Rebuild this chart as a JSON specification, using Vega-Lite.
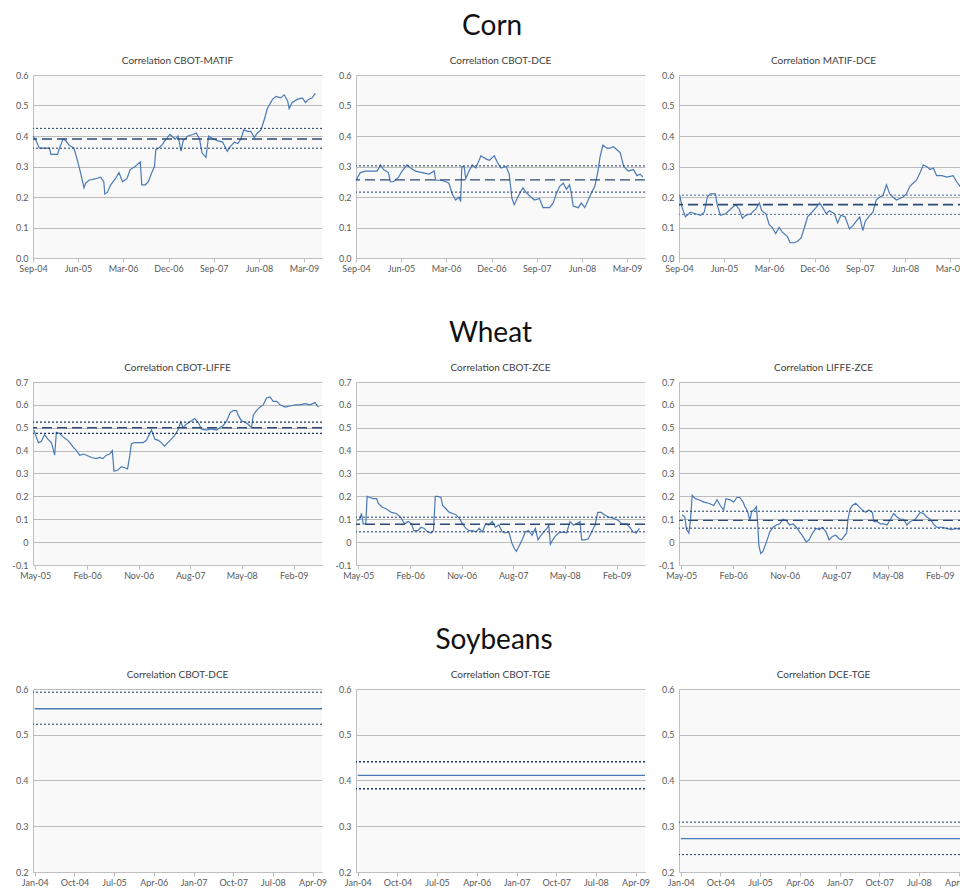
{
"$schema": "https://vega.github.io/schema/vega-lite/v6.json",
"padding": {"left": 12, "top": 13, "right": 0, "bottom": 0},
"background": "white",
"spacing": 47,
"config": {
 "font": "Lato",
 "view": {"stroke": null, "fill": "#f9f9f9"},
 "axis": {"labelFont": "Lato", "labelFontSize": 9, "labelColor": "#595959", "domainColor": "#bfbfbf", "tickColor": "#bfbfbf", "gridColor": "#bcbcbc", "title": null, "labelOverlap": false},
 "axisX": {"grid": false, "tickSize": 4, "labelPadding": 2, "labelFlush": false},
 "axisY": {"grid": true, "ticks": false, "labelPadding": 5},
 "title": {"font": "Lato", "fontSize": 10, "fontWeight": "normal", "color": "#404040", "offset": 5},
 "line": {"color": "#4a7ab5", "strokeWidth": 1.2, "clip": true}
},
"vconcat": [
{
 "title": {"text": "Corn", "fontSize": 28, "color": "#111111", "offset": 15, "anchor": "middle"},
 "bounds": "flush",
 "spacing": 34,
 "hconcat": [
  {
   "width": 289, "height": 183,
   "title": "Correlation CBOT-MATIF",
   "encoding": {"y": {"field": "value", "type": "quantitative", "scale": {"domain": [0, 0.6], "nice": false, "zero": false}, "axis": {"values": [0,0.1,0.2,0.3,0.4,0.5,0.6], "format": ".1f"}}},
   "layer": [
    {"data": {"values": [
      {"date":"2004-09-01","value":0.40},{"date":"2004-09-15","value":0.39},{"date":"2004-10-10","value":0.36},{"date":"2004-12-10","value":0.36},{"date":"2004-12-18","value":0.34},{"date":"2005-01-28","value":0.34},{"date":"2005-02-08","value":0.36},{"date":"2005-03-02","value":0.39},{"date":"2005-03-18","value":0.385},{"date":"2005-04-07","value":0.37},{"date":"2005-05-07","value":0.36},{"date":"2005-05-28","value":0.32},{"date":"2005-06-16","value":0.28},{"date":"2005-07-07","value":0.23},{"date":"2005-07-16","value":0.245},{"date":"2005-08-06","value":0.255},{"date":"2005-09-16","value":0.26},{"date":"2005-10-16","value":0.265},{"date":"2005-11-04","value":0.25},{"date":"2005-11-10","value":0.21},{"date":"2005-11-25","value":0.215},{"date":"2005-12-16","value":0.24},{"date":"2006-01-13","value":0.26},{"date":"2006-02-04","value":0.28},{"date":"2006-02-25","value":0.25},{"date":"2006-03-24","value":0.26},{"date":"2006-04-13","value":0.29},{"date":"2006-05-13","value":0.30},{"date":"2006-06-13","value":0.315},{"date":"2006-06-22","value":0.24},{"date":"2006-07-13","value":0.24},{"date":"2006-08-01","value":0.25},{"date":"2006-08-22","value":0.28},{"date":"2006-09-07","value":0.30},{"date":"2006-09-15","value":0.355},{"date":"2006-10-01","value":0.36},{"date":"2006-10-22","value":0.37},{"date":"2006-11-10","value":0.385},{"date":"2006-12-10","value":0.405},{"date":"2007-01-10","value":0.39},{"date":"2007-01-28","value":0.40},{"date":"2007-02-15","value":0.35},{"date":"2007-02-28","value":0.385},{"date":"2007-03-28","value":0.40},{"date":"2007-04-28","value":0.405},{"date":"2007-05-18","value":0.41},{"date":"2007-06-07","value":0.39},{"date":"2007-06-22","value":0.345},{"date":"2007-07-16","value":0.33},{"date":"2007-08-01","value":0.40},{"date":"2007-08-28","value":0.39},{"date":"2007-09-25","value":0.385},{"date":"2007-10-25","value":0.38},{"date":"2007-11-22","value":0.35},{"date":"2007-12-10","value":0.365},{"date":"2008-01-04","value":0.38},{"date":"2008-01-25","value":0.375},{"date":"2008-02-13","value":0.39},{"date":"2008-03-01","value":0.42},{"date":"2008-03-25","value":0.415},{"date":"2008-04-13","value":0.415},{"date":"2008-05-04","value":0.395},{"date":"2008-05-22","value":0.41},{"date":"2008-06-13","value":0.42},{"date":"2008-07-04","value":0.455},{"date":"2008-07-22","value":0.49},{"date":"2008-08-22","value":0.52},{"date":"2008-09-13","value":0.53},{"date":"2008-10-10","value":0.525},{"date":"2008-11-01","value":0.535},{"date":"2008-11-22","value":0.515},{"date":"2008-12-01","value":0.49},{"date":"2008-12-19","value":0.51},{"date":"2009-01-19","value":0.52},{"date":"2009-02-19","value":0.525},{"date":"2009-03-10","value":0.51},{"date":"2009-03-28","value":0.52},{"date":"2009-04-19","value":0.525},{"date":"2009-05-08","value":0.54}
     ]},
     "mark": {"type": "line"},
     "encoding": {
      "x": {"field": "date", "type": "temporal", "scale": {"type": "utc", "domain": [{"year":2004,"month":9,"date":1,"utc":true},{"year":2009,"month":6,"date":18,"utc":true}]}, "axis": {"format": "%b-%y", "values": [{"year":2004,"month":9,"date":1,"utc":true},{"year":2005,"month":6,"date":1,"utc":true},{"year":2006,"month":3,"date":1,"utc":true},{"year":2006,"month":12,"date":1,"utc":true},{"year":2007,"month":9,"date":1,"utc":true},{"year":2008,"month":6,"date":1,"utc":true},{"year":2009,"month":3,"date":1,"utc":true}]}}
     }},
    {"data": {"values": [{"kind":"mean","value":0.39}]}, "mark": {"type": "rule", "strokeDash": [10,5], "strokeWidth": 1.4, "color": "#2b4a75"}, "encoding": {}},
    {"data": {"values": [{"kind":"upper","value":0.425},{"kind":"lower","value":0.36}]}, "mark": {"type": "rule", "strokeDash": [2,2], "strokeWidth": 1, "color": "#1f3864"}, "encoding": {}}
   ]
  },
  {
   "width": 289, "height": 183,
   "title": "Correlation CBOT-DCE",
   "encoding": {"y": {"field": "value", "type": "quantitative", "scale": {"domain": [0, 0.6], "nice": false, "zero": false}, "axis": {"values": [0,0.1,0.2,0.3,0.4,0.5,0.6], "format": ".1f"}}},
   "layer": [
    {"data": {"values": [
      {"date":"2004-09-01","value":0.255},{"date":"2004-09-27","value":0.28},{"date":"2004-10-27","value":0.285},{"date":"2004-12-07","value":0.285},{"date":"2005-01-07","value":0.285},{"date":"2005-01-28","value":0.305},{"date":"2005-02-15","value":0.29},{"date":"2005-03-16","value":0.28},{"date":"2005-03-28","value":0.25},{"date":"2005-04-16","value":0.25},{"date":"2005-05-17","value":0.265},{"date":"2005-06-07","value":0.285},{"date":"2005-07-07","value":0.305},{"date":"2005-07-28","value":0.295},{"date":"2005-08-28","value":0.285},{"date":"2005-10-07","value":0.28},{"date":"2005-11-18","value":0.275},{"date":"2005-12-19","value":0.285},{"date":"2005-12-28","value":0.255},{"date":"2006-01-28","value":0.255},{"date":"2006-02-27","value":0.25},{"date":"2006-03-18","value":0.245},{"date":"2006-04-07","value":0.21},{"date":"2006-04-28","value":0.19},{"date":"2006-05-18","value":0.20},{"date":"2006-05-28","value":0.185},{"date":"2006-06-04","value":0.30},{"date":"2006-06-18","value":0.30},{"date":"2006-06-28","value":0.26},{"date":"2006-07-18","value":0.285},{"date":"2006-08-07","value":0.305},{"date":"2006-08-28","value":0.295},{"date":"2006-09-28","value":0.335},{"date":"2006-10-28","value":0.325},{"date":"2006-11-18","value":0.32},{"date":"2006-12-18","value":0.335},{"date":"2007-01-09","value":0.31},{"date":"2007-01-28","value":0.295},{"date":"2007-02-28","value":0.30},{"date":"2007-03-18","value":0.275},{"date":"2007-04-04","value":0.195},{"date":"2007-04-18","value":0.175},{"date":"2007-05-09","value":0.20},{"date":"2007-06-09","value":0.23},{"date":"2007-06-28","value":0.215},{"date":"2007-07-28","value":0.20},{"date":"2007-08-18","value":0.19},{"date":"2007-09-18","value":0.195},{"date":"2007-10-09","value":0.165},{"date":"2007-11-18","value":0.165},{"date":"2007-12-09","value":0.18},{"date":"2007-12-28","value":0.21},{"date":"2008-01-18","value":0.235},{"date":"2008-02-09","value":0.245},{"date":"2008-02-28","value":0.225},{"date":"2008-03-18","value":0.24},{"date":"2008-03-29","value":0.21},{"date":"2008-04-09","value":0.17},{"date":"2008-05-09","value":0.165},{"date":"2008-05-29","value":0.18},{"date":"2008-06-18","value":0.165},{"date":"2008-07-09","value":0.19},{"date":"2008-07-29","value":0.215},{"date":"2008-08-18","value":0.235},{"date":"2008-09-06","value":0.285},{"date":"2008-09-18","value":0.33},{"date":"2008-10-06","value":0.37},{"date":"2008-10-30","value":0.36},{"date":"2008-11-18","value":0.36},{"date":"2008-12-09","value":0.365},{"date":"2008-12-30","value":0.355},{"date":"2009-01-19","value":0.345},{"date":"2009-02-09","value":0.30},{"date":"2009-03-09","value":0.285},{"date":"2009-04-09","value":0.29},{"date":"2009-04-30","value":0.27},{"date":"2009-05-19","value":0.275},{"date":"2009-06-06","value":0.265}
     ]},
     "mark": {"type": "line"},
     "encoding": {
      "x": {"field": "date", "type": "temporal", "scale": {"type": "utc", "domain": [{"year":2004,"month":9,"date":1,"utc":true},{"year":2009,"month":6,"date":18,"utc":true}]}, "axis": {"format": "%b-%y", "values": [{"year":2004,"month":9,"date":1,"utc":true},{"year":2005,"month":6,"date":1,"utc":true},{"year":2006,"month":3,"date":1,"utc":true},{"year":2006,"month":12,"date":1,"utc":true},{"year":2007,"month":9,"date":1,"utc":true},{"year":2008,"month":6,"date":1,"utc":true},{"year":2009,"month":3,"date":1,"utc":true}]}}
     }},
    {"data": {"values": [{"kind":"mean","value":0.256}]}, "mark": {"type": "rule", "strokeDash": [10,5], "strokeWidth": 1.4, "color": "#2b4a75"}, "encoding": {}},
    {"data": {"values": [{"kind":"upper","value":0.302},{"kind":"lower","value":0.216}]}, "mark": {"type": "rule", "strokeDash": [2,2], "strokeWidth": 1, "color": "#1f3864"}, "encoding": {}}
   ]
  },
  {
   "width": 289, "height": 183,
   "title": "Correlation MATIF-DCE",
   "encoding": {"y": {"field": "value", "type": "quantitative", "scale": {"domain": [0, 0.6], "nice": false, "zero": false}, "axis": {"values": [0,0.1,0.2,0.3,0.4,0.5,0.6], "format": ".1f"}}},
   "layer": [
    {"data": {"values": [
      {"date":"2004-09-06","value":0.205},{"date":"2004-09-20","value":0.165},{"date":"2004-10-10","value":0.135},{"date":"2004-11-10","value":0.15},{"date":"2004-12-10","value":0.145},{"date":"2005-01-10","value":0.14},{"date":"2005-02-01","value":0.15},{"date":"2005-02-20","value":0.20},{"date":"2005-03-10","value":0.21},{"date":"2005-04-10","value":0.21},{"date":"2005-04-20","value":0.175},{"date":"2005-05-10","value":0.14},{"date":"2005-06-10","value":0.145},{"date":"2005-07-10","value":0.16},{"date":"2005-08-10","value":0.175},{"date":"2005-09-01","value":0.16},{"date":"2005-09-20","value":0.13},{"date":"2005-10-10","value":0.14},{"date":"2005-11-10","value":0.145},{"date":"2005-12-10","value":0.16},{"date":"2006-01-01","value":0.18},{"date":"2006-01-15","value":0.155},{"date":"2006-02-10","value":0.145},{"date":"2006-03-01","value":0.11},{"date":"2006-03-20","value":0.10},{"date":"2006-04-10","value":0.08},{"date":"2006-05-01","value":0.10},{"date":"2006-05-20","value":0.085},{"date":"2006-06-20","value":0.07},{"date":"2006-07-06","value":0.05},{"date":"2006-08-01","value":0.05},{"date":"2006-08-20","value":0.055},{"date":"2006-09-10","value":0.065},{"date":"2006-10-01","value":0.10},{"date":"2006-10-20","value":0.135},{"date":"2006-11-15","value":0.15},{"date":"2006-12-10","value":0.165},{"date":"2007-01-01","value":0.18},{"date":"2007-01-20","value":0.165},{"date":"2007-02-10","value":0.145},{"date":"2007-03-01","value":0.155},{"date":"2007-04-01","value":0.145},{"date":"2007-04-20","value":0.115},{"date":"2007-05-10","value":0.14},{"date":"2007-06-04","value":0.135},{"date":"2007-07-01","value":0.095},{"date":"2007-07-20","value":0.105},{"date":"2007-08-10","value":0.12},{"date":"2007-09-01","value":0.135},{"date":"2007-09-20","value":0.09},{"date":"2007-10-04","value":0.12},{"date":"2007-11-01","value":0.14},{"date":"2007-11-20","value":0.15},{"date":"2007-12-10","value":0.19},{"date":"2008-01-01","value":0.20},{"date":"2008-01-20","value":0.205},{"date":"2008-02-10","value":0.24},{"date":"2008-03-01","value":0.21},{"date":"2008-03-20","value":0.20},{"date":"2008-04-10","value":0.19},{"date":"2008-05-01","value":0.195},{"date":"2008-05-20","value":0.20},{"date":"2008-06-10","value":0.21},{"date":"2008-07-01","value":0.235},{"date":"2008-07-20","value":0.245},{"date":"2008-08-10","value":0.255},{"date":"2008-09-01","value":0.28},{"date":"2008-09-20","value":0.305},{"date":"2008-10-10","value":0.30},{"date":"2008-11-01","value":0.29},{"date":"2008-11-20","value":0.295},{"date":"2008-12-10","value":0.27},{"date":"2009-01-10","value":0.27},{"date":"2009-02-10","value":0.265},{"date":"2009-03-20","value":0.27},{"date":"2009-04-10","value":0.25},{"date":"2009-05-01","value":0.235},{"date":"2009-05-20","value":0.23}
     ]},
     "mark": {"type": "line"},
     "encoding": {
      "x": {"field": "date", "type": "temporal", "scale": {"type": "utc", "domain": [{"year":2004,"month":9,"date":1,"utc":true},{"year":2009,"month":6,"date":18,"utc":true}]}, "axis": {"format": "%b-%y", "values": [{"year":2004,"month":9,"date":1,"utc":true},{"year":2005,"month":6,"date":1,"utc":true},{"year":2006,"month":3,"date":1,"utc":true},{"year":2006,"month":12,"date":1,"utc":true},{"year":2007,"month":9,"date":1,"utc":true},{"year":2008,"month":6,"date":1,"utc":true},{"year":2009,"month":3,"date":1,"utc":true}]}}
     }},
    {"data": {"values": [{"kind":"mean","value":0.175}]}, "mark": {"type": "rule", "strokeDash": [10,5], "strokeWidth": 1.8, "color": "#2b4a75"}, "encoding": {}},
    {"data": {"values": [{"kind":"upper","value":0.206},{"kind":"lower","value":0.143}]}, "mark": {"type": "rule", "strokeDash": [2,2], "strokeWidth": 1, "color": "#4f6f9a"}, "encoding": {}}
   ]
  }
 ]
},
{
 "title": {"text": "Wheat", "fontSize": 28, "color": "#111111", "offset": 15, "anchor": "middle"},
 "bounds": "flush",
 "spacing": 34,
 "hconcat": [
  {
   "width": 289, "height": 183,
   "title": "Correlation CBOT-LIFFE",
   "encoding": {"y": {"field": "value", "type": "quantitative", "scale": {"domain": [-0.1, 0.7], "nice": false, "zero": false}, "axis": {"values": [-0.1,0,0.1,0.2,0.3,0.4,0.5,0.6,0.7], "labelExpr": "datum.value == 0 ? '0' : replace(format(datum.value, '.1f'), '\u2212', '-')"}}},
   "layer": [
    {"data": {"values": [
      {"date":"2005-04-24","value":0.49},{"date":"2005-05-06","value":0.46},{"date":"2005-05-18","value":0.435},{"date":"2005-06-02","value":0.44},{"date":"2005-06-19","value":0.47},{"date":"2005-07-07","value":0.45},{"date":"2005-07-25","value":0.435},{"date":"2005-08-03","value":0.41},{"date":"2005-08-12","value":0.38},{"date":"2005-08-21","value":0.48},{"date":"2005-09-08","value":0.475},{"date":"2005-09-26","value":0.46},{"date":"2005-10-13","value":0.45},{"date":"2005-11-01","value":0.435},{"date":"2005-11-18","value":0.415},{"date":"2005-12-06","value":0.40},{"date":"2005-12-23","value":0.38},{"date":"2006-01-11","value":0.385},{"date":"2006-01-28","value":0.38},{"date":"2006-02-24","value":0.37},{"date":"2006-03-20","value":0.365},{"date":"2006-04-08","value":0.37},{"date":"2006-04-25","value":0.365},{"date":"2006-05-13","value":0.38},{"date":"2006-05-31","value":0.385},{"date":"2006-06-14","value":0.40},{"date":"2006-06-23","value":0.31},{"date":"2006-07-14","value":0.315},{"date":"2006-08-01","value":0.33},{"date":"2006-08-19","value":0.325},{"date":"2006-09-03","value":0.32},{"date":"2006-09-15","value":0.38},{"date":"2006-09-23","value":0.43},{"date":"2006-10-11","value":0.435},{"date":"2006-10-29","value":0.435},{"date":"2006-11-25","value":0.435},{"date":"2006-12-12","value":0.445},{"date":"2006-12-30","value":0.475},{"date":"2007-01-08","value":0.49},{"date":"2007-01-26","value":0.45},{"date":"2007-02-13","value":0.445},{"date":"2007-03-01","value":0.435},{"date":"2007-03-18","value":0.42},{"date":"2007-04-05","value":0.435},{"date":"2007-04-23","value":0.45},{"date":"2007-05-10","value":0.465},{"date":"2007-05-28","value":0.49},{"date":"2007-06-12","value":0.525},{"date":"2007-06-24","value":0.50},{"date":"2007-07-11","value":0.515},{"date":"2007-08-07","value":0.53},{"date":"2007-08-25","value":0.54},{"date":"2007-09-12","value":0.525},{"date":"2007-09-30","value":0.495},{"date":"2007-10-27","value":0.49},{"date":"2007-11-22","value":0.495},{"date":"2007-12-19","value":0.49},{"date":"2008-01-06","value":0.50},{"date":"2008-01-24","value":0.51},{"date":"2008-02-11","value":0.53},{"date":"2008-02-29","value":0.565},{"date":"2008-03-16","value":0.575},{"date":"2008-04-03","value":0.575},{"date":"2008-04-12","value":0.555},{"date":"2008-04-30","value":0.53},{"date":"2008-05-17","value":0.525},{"date":"2008-06-04","value":0.515},{"date":"2008-06-22","value":0.50},{"date":"2008-07-01","value":0.555},{"date":"2008-07-18","value":0.575},{"date":"2008-08-05","value":0.59},{"date":"2008-08-23","value":0.60},{"date":"2008-09-10","value":0.63},{"date":"2008-09-28","value":0.635},{"date":"2008-10-15","value":0.615},{"date":"2008-11-03","value":0.615},{"date":"2008-11-20","value":0.60},{"date":"2008-12-17","value":0.59},{"date":"2009-01-13","value":0.595},{"date":"2009-02-09","value":0.60},{"date":"2009-03-06","value":0.60},{"date":"2009-04-01","value":0.605},{"date":"2009-04-28","value":0.60},{"date":"2009-05-25","value":0.61},{"date":"2009-06-12","value":0.59}
     ]},
     "mark": {"type": "line"},
     "encoding": {
      "x": {"field": "date", "type": "temporal", "scale": {"type": "utc", "domain": [{"year":2005,"month":4,"date":19,"utc":true},{"year":2009,"month":7,"date":1,"utc":true}]}, "axis": {"format": "%b-%y", "values": [{"year":2005,"month":5,"date":1,"utc":true},{"year":2006,"month":2,"date":1,"utc":true},{"year":2006,"month":11,"date":1,"utc":true},{"year":2007,"month":8,"date":1,"utc":true},{"year":2008,"month":5,"date":1,"utc":true},{"year":2009,"month":2,"date":1,"utc":true}]}}
     }},
    {"data": {"values": [{"kind":"mean","value":0.50}]}, "mark": {"type": "rule", "strokeDash": [10,5], "strokeWidth": 1.4, "color": "#2b4a75"}, "encoding": {}},
    {"data": {"values": [{"kind":"upper","value":0.525},{"kind":"lower","value":0.475}]}, "mark": {"type": "rule", "strokeDash": [2,2], "strokeWidth": 1.2, "color": "#1f3864"}, "encoding": {}}
   ]
  },
  {
   "width": 289, "height": 183,
   "title": "Correlation CBOT-ZCE",
   "encoding": {"y": {"field": "value", "type": "quantitative", "scale": {"domain": [-0.1, 0.7], "nice": false, "zero": false}, "axis": {"values": [-0.1,0,0.1,0.2,0.3,0.4,0.5,0.6,0.7], "labelExpr": "datum.value == 0 ? '0' : replace(format(datum.value, '.1f'), '\u2212', '-')"}}},
   "layer": [
    {"data": {"values": [
      {"date":"2005-04-26","value":0.095},{"date":"2005-05-09","value":0.10},{"date":"2005-05-18","value":0.125},{"date":"2005-05-27","value":0.08},{"date":"2005-06-10","value":0.08},{"date":"2005-06-17","value":0.20},{"date":"2005-07-01","value":0.195},{"date":"2005-07-19","value":0.19},{"date":"2005-08-06","value":0.19},{"date":"2005-08-15","value":0.17},{"date":"2005-09-02","value":0.155},{"date":"2005-09-28","value":0.145},{"date":"2005-10-24","value":0.13},{"date":"2005-11-20","value":0.125},{"date":"2005-12-16","value":0.105},{"date":"2005-12-25","value":0.09},{"date":"2006-01-03","value":0.08},{"date":"2006-01-21","value":0.09},{"date":"2006-02-08","value":0.08},{"date":"2006-02-20","value":0.05},{"date":"2006-03-13","value":0.05},{"date":"2006-03-30","value":0.065},{"date":"2006-04-17","value":0.06},{"date":"2006-05-04","value":0.045},{"date":"2006-05-22","value":0.04},{"date":"2006-06-04","value":0.05},{"date":"2006-06-14","value":0.20},{"date":"2006-06-26","value":0.20},{"date":"2006-07-14","value":0.195},{"date":"2006-07-23","value":0.16},{"date":"2006-08-10","value":0.145},{"date":"2006-08-28","value":0.13},{"date":"2006-09-14","value":0.125},{"date":"2006-10-01","value":0.12},{"date":"2006-10-19","value":0.105},{"date":"2006-11-06","value":0.08},{"date":"2006-11-23","value":0.06},{"date":"2006-12-11","value":0.05},{"date":"2006-12-28","value":0.05},{"date":"2007-01-15","value":0.045},{"date":"2007-02-02","value":0.06},{"date":"2007-02-19","value":0.045},{"date":"2007-03-08","value":0.08},{"date":"2007-03-25","value":0.075},{"date":"2007-04-12","value":0.09},{"date":"2007-04-29","value":0.065},{"date":"2007-05-17","value":0.075},{"date":"2007-06-04","value":0.045},{"date":"2007-06-21","value":0.04},{"date":"2007-07-09","value":0.045},{"date":"2007-07-26","value":-0.005},{"date":"2007-08-09","value":-0.03},{"date":"2007-08-18","value":-0.04},{"date":"2007-08-31","value":-0.02},{"date":"2007-09-18","value":0.01},{"date":"2007-10-05","value":0.045},{"date":"2007-10-23","value":0.05},{"date":"2007-11-10","value":0.03},{"date":"2007-11-27","value":0.06},{"date":"2007-12-11","value":0.01},{"date":"2007-12-23","value":0.025},{"date":"2008-01-10","value":0.045},{"date":"2008-01-28","value":0.06},{"date":"2008-02-06","value":0.075},{"date":"2008-02-15","value":-0.01},{"date":"2008-02-27","value":0.01},{"date":"2008-03-11","value":0.025},{"date":"2008-03-29","value":0.04},{"date":"2008-04-24","value":0.045},{"date":"2008-05-11","value":0.04},{"date":"2008-05-29","value":0.09},{"date":"2008-06-16","value":0.075},{"date":"2008-07-03","value":0.08},{"date":"2008-07-21","value":0.09},{"date":"2008-07-30","value":0.01},{"date":"2008-08-16","value":0.01},{"date":"2008-09-03","value":0.015},{"date":"2008-09-21","value":0.045},{"date":"2008-10-09","value":0.075},{"date":"2008-10-23","value":0.13},{"date":"2008-11-10","value":0.13},{"date":"2008-11-27","value":0.12},{"date":"2008-12-18","value":0.11},{"date":"2009-01-14","value":0.105},{"date":"2009-02-10","value":0.095},{"date":"2009-02-27","value":0.08},{"date":"2009-03-24","value":0.08},{"date":"2009-04-11","value":0.065},{"date":"2009-04-28","value":0.045},{"date":"2009-05-15","value":0.04},{"date":"2009-06-02","value":0.06}
     ]},
     "mark": {"type": "line"},
     "encoding": {
      "x": {"field": "date", "type": "temporal", "scale": {"type": "utc", "domain": [{"year":2005,"month":4,"date":19,"utc":true},{"year":2009,"month":7,"date":1,"utc":true}]}, "axis": {"format": "%b-%y", "values": [{"year":2005,"month":5,"date":1,"utc":true},{"year":2006,"month":2,"date":1,"utc":true},{"year":2006,"month":11,"date":1,"utc":true},{"year":2007,"month":8,"date":1,"utc":true},{"year":2008,"month":5,"date":1,"utc":true},{"year":2009,"month":2,"date":1,"utc":true}]}}
     }},
    {"data": {"values": [{"kind":"mean","value":0.078}]}, "mark": {"type": "rule", "strokeDash": [10,5], "strokeWidth": 1.4, "color": "#2b4a75"}, "encoding": {}},
    {"data": {"values": [{"kind":"upper","value":0.109},{"kind":"lower","value":0.045}]}, "mark": {"type": "rule", "strokeDash": [2,2], "strokeWidth": 1, "color": "#1f3864"}, "encoding": {}}
   ]
  },
  {
   "width": 289, "height": 183,
   "title": "Correlation LIFFE-ZCE",
   "encoding": {"y": {"field": "value", "type": "quantitative", "scale": {"domain": [-0.1, 0.7], "nice": false, "zero": false}, "axis": {"values": [-0.1,0,0.1,0.2,0.3,0.4,0.5,0.6,0.7], "labelExpr": "datum.value == 0 ? '0' : replace(format(datum.value, '.1f'), '\u2212', '-')"}}},
   "layer": [
    {"data": {"values": [
      {"date":"2005-05-06","value":0.12},{"date":"2005-05-20","value":0.11},{"date":"2005-05-29","value":0.055},{"date":"2005-06-10","value":0.04},{"date":"2005-06-19","value":0.095},{"date":"2005-06-28","value":0.205},{"date":"2005-07-15","value":0.19},{"date":"2005-08-02","value":0.185},{"date":"2005-08-29","value":0.175},{"date":"2005-09-24","value":0.17},{"date":"2005-10-20","value":0.16},{"date":"2005-11-07","value":0.185},{"date":"2005-11-24","value":0.16},{"date":"2005-12-12","value":0.14},{"date":"2005-12-24","value":0.19},{"date":"2006-01-16","value":0.185},{"date":"2006-02-03","value":0.175},{"date":"2006-02-20","value":0.195},{"date":"2006-03-08","value":0.195},{"date":"2006-03-25","value":0.175},{"date":"2006-04-04","value":0.155},{"date":"2006-04-12","value":0.145},{"date":"2006-04-21","value":0.125},{"date":"2006-04-30","value":0.095},{"date":"2006-05-09","value":0.13},{"date":"2006-05-26","value":0.145},{"date":"2006-06-04","value":0.155},{"date":"2006-06-10","value":0.09},{"date":"2006-06-17","value":-0.015},{"date":"2006-06-27","value":-0.05},{"date":"2006-07-09","value":-0.04},{"date":"2006-07-27","value":0.0},{"date":"2006-08-14","value":0.045},{"date":"2006-09-01","value":0.065},{"date":"2006-09-18","value":0.075},{"date":"2006-10-06","value":0.08},{"date":"2006-10-23","value":0.10},{"date":"2006-11-10","value":0.095},{"date":"2006-11-27","value":0.075},{"date":"2006-12-15","value":0.08},{"date":"2007-01-02","value":0.065},{"date":"2007-01-19","value":0.045},{"date":"2007-02-06","value":0.025},{"date":"2007-02-23","value":0.0},{"date":"2007-03-11","value":0.01},{"date":"2007-03-29","value":0.04},{"date":"2007-04-16","value":0.06},{"date":"2007-05-03","value":0.055},{"date":"2007-05-20","value":0.065},{"date":"2007-06-08","value":0.045},{"date":"2007-06-25","value":0.01},{"date":"2007-07-12","value":0.025},{"date":"2007-07-30","value":0.03},{"date":"2007-08-17","value":0.015},{"date":"2007-08-29","value":0.01},{"date":"2007-09-12","value":0.025},{"date":"2007-09-26","value":0.04},{"date":"2007-10-03","value":0.10},{"date":"2007-10-14","value":0.145},{"date":"2007-10-26","value":0.16},{"date":"2007-11-13","value":0.17},{"date":"2007-11-30","value":0.155},{"date":"2007-12-18","value":0.14},{"date":"2008-01-05","value":0.13},{"date":"2008-01-22","value":0.14},{"date":"2008-02-09","value":0.13},{"date":"2008-02-18","value":0.09},{"date":"2008-03-06","value":0.09},{"date":"2008-03-23","value":0.08},{"date":"2008-04-10","value":0.08},{"date":"2008-04-27","value":0.075},{"date":"2008-05-15","value":0.10},{"date":"2008-06-02","value":0.125},{"date":"2008-06-19","value":0.11},{"date":"2008-07-06","value":0.10},{"date":"2008-07-24","value":0.10},{"date":"2008-08-11","value":0.075},{"date":"2008-08-29","value":0.09},{"date":"2008-09-24","value":0.10},{"date":"2008-10-20","value":0.13},{"date":"2008-11-07","value":0.125},{"date":"2008-11-24","value":0.11},{"date":"2008-12-12","value":0.10},{"date":"2008-12-29","value":0.08},{"date":"2009-01-16","value":0.065},{"date":"2009-02-12","value":0.065},{"date":"2009-03-08","value":0.06},{"date":"2009-04-04","value":0.055},{"date":"2009-04-30","value":0.06},{"date":"2009-05-25","value":0.055}
     ]},
     "mark": {"type": "line"},
     "encoding": {
      "x": {"field": "date", "type": "temporal", "scale": {"type": "utc", "domain": [{"year":2005,"month":4,"date":19,"utc":true},{"year":2009,"month":7,"date":1,"utc":true}]}, "axis": {"format": "%b-%y", "values": [{"year":2005,"month":5,"date":1,"utc":true},{"year":2006,"month":2,"date":1,"utc":true},{"year":2006,"month":11,"date":1,"utc":true},{"year":2007,"month":8,"date":1,"utc":true},{"year":2008,"month":5,"date":1,"utc":true},{"year":2009,"month":2,"date":1,"utc":true}]}}
     }},
    {"data": {"values": [{"kind":"mean","value":0.095}]}, "mark": {"type": "rule", "strokeDash": [10,5], "strokeWidth": 1.4, "color": "#2b4a75"}, "encoding": {}},
    {"data": {"values": [{"kind":"upper","value":0.135},{"kind":"lower","value":0.061}]}, "mark": {"type": "rule", "strokeDash": [2,2], "strokeWidth": 1, "color": "#1f3864"}, "encoding": {}}
   ]
  }
 ]
},
{
 "title": {"text": "Soybeans", "fontSize": 28, "color": "#111111", "offset": 15, "anchor": "middle"},
 "bounds": "flush",
 "spacing": 34,
 "hconcat": [
  {
   "width": 289, "height": 183,
   "title": "Correlation CBOT-DCE",
   "encoding": {"y": {"field": "value", "type": "quantitative", "scale": {"domain": [0.2, 0.6], "nice": false, "zero": false}, "axis": {"values": [0.2,0.3,0.4,0.5,0.6], "format": ".1f"}}},
   "layer": [
    {"data": {"values": [{"date":"2004-01-01","value":0.557},{"date":"2009-06-05","value":0.557}]},
     "mark": {"type": "line", "strokeWidth": 1.5},
     "encoding": {
      "x": {"field": "date", "type": "temporal", "scale": {"type": "utc", "domain": [{"year":2003,"month":12,"date":20,"utc":true},{"year":2009,"month":6,"date":5,"utc":true}]}, "axis": {"format": "%b-%y", "values": [{"year":2004,"month":1,"date":1,"utc":true},{"year":2004,"month":10,"date":1,"utc":true},{"year":2005,"month":7,"date":1,"utc":true},{"year":2006,"month":4,"date":1,"utc":true},{"year":2007,"month":1,"date":1,"utc":true},{"year":2007,"month":10,"date":1,"utc":true},{"year":2008,"month":7,"date":1,"utc":true},{"year":2009,"month":4,"date":1,"utc":true}]}}
     }},
    {"data": {"values": [{"kind":"upper","value":0.593},{"kind":"lower","value":0.523}]}, "mark": {"type": "rule", "strokeDash": [2,2], "strokeWidth": 1, "color": "#1f3864"}, "encoding": {}}
   ]
  },
  {
   "width": 289, "height": 183,
   "title": "Correlation CBOT-TGE",
   "encoding": {"y": {"field": "value", "type": "quantitative", "scale": {"domain": [0.2, 0.6], "nice": false, "zero": false}, "axis": {"values": [0.2,0.3,0.4,0.5,0.6], "format": ".1f"}}},
   "layer": [
    {"data": {"values": [{"date":"2004-01-01","value":0.411},{"date":"2009-06-05","value":0.411}]},
     "mark": {"type": "line", "strokeWidth": 1.2},
     "encoding": {
      "x": {"field": "date", "type": "temporal", "scale": {"type": "utc", "domain": [{"year":2003,"month":12,"date":20,"utc":true},{"year":2009,"month":6,"date":5,"utc":true}]}, "axis": {"format": "%b-%y", "values": [{"year":2004,"month":1,"date":1,"utc":true},{"year":2004,"month":10,"date":1,"utc":true},{"year":2005,"month":7,"date":1,"utc":true},{"year":2006,"month":4,"date":1,"utc":true},{"year":2007,"month":1,"date":1,"utc":true},{"year":2007,"month":10,"date":1,"utc":true},{"year":2008,"month":7,"date":1,"utc":true},{"year":2009,"month":4,"date":1,"utc":true}]}}
     }},
    {"data": {"values": [{"kind":"upper","value":0.441},{"kind":"lower","value":0.382}]}, "mark": {"type": "rule", "strokeDash": [2,2], "strokeWidth": 1.3, "color": "#1f3864"}, "encoding": {}}
   ]
  },
  {
   "width": 289, "height": 183,
   "title": "Correlation DCE-TGE",
   "encoding": {"y": {"field": "value", "type": "quantitative", "scale": {"domain": [0.2, 0.6], "nice": false, "zero": false}, "axis": {"values": [0.2,0.3,0.4,0.5,0.6], "format": ".1f"}}},
   "layer": [
    {"data": {"values": [{"date":"2004-01-01","value":0.273},{"date":"2009-06-05","value":0.273}]},
     "mark": {"type": "line", "strokeWidth": 1.2},
     "encoding": {
      "x": {"field": "date", "type": "temporal", "scale": {"type": "utc", "domain": [{"year":2003,"month":12,"date":20,"utc":true},{"year":2009,"month":6,"date":5,"utc":true}]}, "axis": {"format": "%b-%y", "values": [{"year":2004,"month":1,"date":1,"utc":true},{"year":2004,"month":10,"date":1,"utc":true},{"year":2005,"month":7,"date":1,"utc":true},{"year":2006,"month":4,"date":1,"utc":true},{"year":2007,"month":1,"date":1,"utc":true},{"year":2007,"month":10,"date":1,"utc":true},{"year":2008,"month":7,"date":1,"utc":true},{"year":2009,"month":4,"date":1,"utc":true}]}}
     }},
    {"data": {"values": [{"kind":"upper","value":0.309},{"kind":"lower","value":0.238}]}, "mark": {"type": "rule", "strokeDash": [2,2], "strokeWidth": 1, "color": "#1f3864"}, "encoding": {}}
   ]
  }
 ]
}
]
}
